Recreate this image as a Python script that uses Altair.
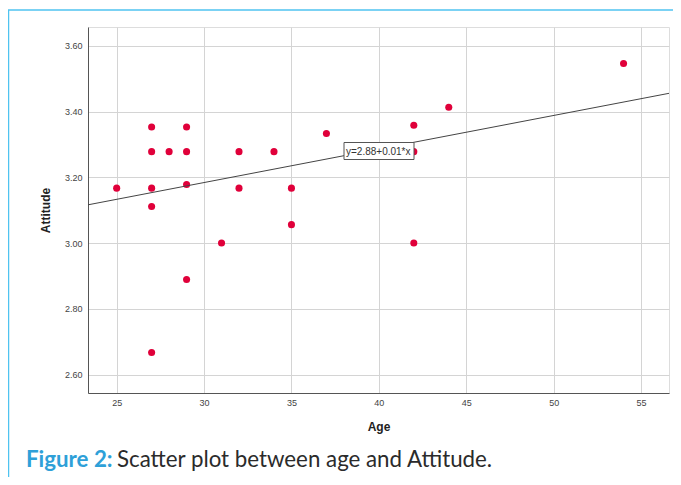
import altair as alt
import pandas as pd

# ---- data ----
age = [25, 27, 27, 27, 27, 27, 28, 29, 29, 29, 29, 31, 32, 32, 34, 35, 35, 37, 42, 42, 42, 44, 54]
attitude = [3.167, 3.353, 3.278, 3.167, 3.111, 2.667, 3.278, 3.353, 3.278, 3.178, 2.889,
            3.000, 3.278, 3.167, 3.278, 3.167, 3.056, 3.333, 3.358, 3.278, 3.000, 3.413, 3.546]
fit_intercept = 2.878
fit_slope = 0.0102
fit_label = "y=2.88+0.01*x"
x_domain = [23.36, 56.6]
y_domain = [2.544, 3.657]
x_ticks = [25, 30, 35, 40, 45, 50, 55]
y_ticks = [2.6, 2.8, 3.0, 3.2, 3.4, 3.6]
caption_bold = "Figure 2:"
caption_rest = "Scatter plot between age and Attitude."

W, H = 581, 366

pts = pd.DataFrame({"Age": age, "Attitude": attitude})
fit = pd.DataFrame({"Age": x_domain,
                    "Attitude": [fit_intercept + fit_slope * v for v in x_domain]})

xscale = alt.Scale(domain=x_domain, nice=False, zero=False)
yscale = alt.Scale(domain=y_domain, nice=False, zero=False)

xaxis = alt.Axis(values=x_ticks, title="Age", grid=True, gridColor="#d4d4d4",
                 ticks=False, domainColor="#555555", labelFont="Liberation Sans",
                 labelFontSize=9, labelColor="#444444", labelPadding=5,
                 titleFont="Liberation Sans", titleFontSize=12, titleFontWeight="bold",
                 titleColor="#222222", titlePadding=14)
yaxis = alt.Axis(values=y_ticks, title="Attitude", format=".2f", grid=True,
                 gridColor="#d4d4d4", ticks=False, domainColor="#555555",
                 labelFont="Liberation Sans", labelFontSize=9, labelColor="#444444",
                 labelPadding=6, titleFont="Liberation Sans", titleFontSize=12,
                 titleFontWeight="bold", titleColor="#222222", titlePadding=12)

points = alt.Chart(pts).mark_circle(size=50, color="#e0003a", opacity=1).encode(
    x=alt.X("Age:Q", scale=xscale, axis=xaxis),
    y=alt.Y("Attitude:Q", scale=yscale, axis=yaxis),
)

line = alt.Chart(fit).mark_line(color="#444444", strokeWidth=1).encode(
    x=alt.X("Age:Q", scale=xscale),
    y=alt.Y("Attitude:Q", scale=yscale),
)

box = alt.Chart(pd.DataFrame({"t": [fit_label]})).mark_rect(
    fill="white", stroke="#555555", strokeWidth=1
).encode(x=alt.value(256), x2=alt.value(326), y=alt.value(115.5), y2=alt.value(132.5))

label = alt.Chart(pd.DataFrame({"t": [fit_label]})).mark_text(
    align="left", baseline="middle", font="Liberation Sans", fontSize=10, color="#333333"
).encode(x=alt.value(258), y=alt.value(124.5), text="t:N")

frame_top = alt.Chart(pd.DataFrame({"a": [0]})).mark_rule(
    color="#4fc3f0", strokeWidth=1.5
).encode(x=alt.value(-80), x2=alt.value(W + 20), y=alt.value(-17))
frame_left = alt.Chart(pd.DataFrame({"a": [0]})).mark_rule(
    color="#4fc3f0", strokeWidth=1.5
).encode(x=alt.value(-79.5), y=alt.value(-17), y2=alt.value(H + 120))

cap1 = alt.Chart(pd.DataFrame({"t": [caption_bold]})).mark_text(
    align="left", baseline="alphabetic", font="Lato", fontSize=22.3,
    fontWeight="bold", color="#2ea0d8"
).encode(x=alt.value(-62), y=alt.value(439.5), text="t:N")
cap2 = alt.Chart(pd.DataFrame({"t": [caption_rest]})).mark_text(
    align="left", baseline="alphabetic", font="Lato", fontSize=22.3, color="#2b2b2b"
).encode(x=alt.value(29), y=alt.value(439.5), text="t:N")

chart = alt.layer(frame_top, frame_left, points, line, box, label, cap1, cap2).properties(
    width=W, height=H,
    autosize=alt.AutoSizeParams(type="none"),
    padding={"left": 80, "top": 19, "right": 4, "bottom": 84},
).configure_view(stroke=None).configure(background="white")

chart.save("out.html", embed_options={"renderer": "svg", "actions": False})
